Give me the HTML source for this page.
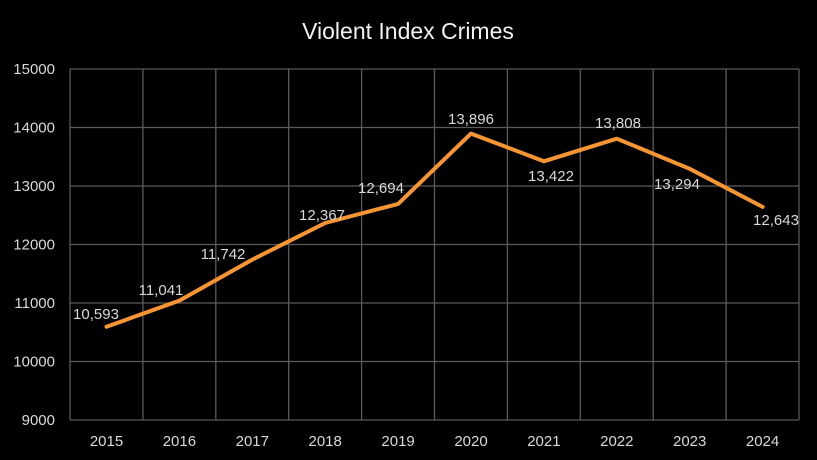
<!DOCTYPE html>
<html><head><style>
html,body{margin:0;padding:0;background:#000;}
svg{display:block;font-family:"Liberation Sans",Arial,sans-serif;}
</style></head><body>
<svg width="817" height="460" viewBox="0 0 817 460">
<rect width="817" height="460" fill="#000"/>
<text x="408" y="39" text-anchor="middle" fill="#f2f2f2" font-size="23">Violent Index Crimes</text>
<g stroke="#5a5a5a" stroke-width="1.3" fill="none">
<line x1="70" y1="69" x2="799" y2="69"/>
<line x1="70" y1="127.5" x2="799" y2="127.5"/>
<line x1="70" y1="186" x2="799" y2="186"/>
<line x1="70" y1="244.5" x2="799" y2="244.5"/>
<line x1="70" y1="303" x2="799" y2="303"/>
<line x1="70" y1="361.5" x2="799" y2="361.5"/>
<line x1="70" y1="420" x2="799" y2="420"/>
<line x1="70" y1="69" x2="70" y2="420"/>
<line x1="142.9" y1="69" x2="142.9" y2="420"/>
<line x1="215.8" y1="69" x2="215.8" y2="420"/>
<line x1="288.7" y1="69" x2="288.7" y2="420"/>
<line x1="361.6" y1="69" x2="361.6" y2="420"/>
<line x1="434.5" y1="69" x2="434.5" y2="420"/>
<line x1="507.4" y1="69" x2="507.4" y2="420"/>
<line x1="580.3" y1="69" x2="580.3" y2="420"/>
<line x1="653.2" y1="69" x2="653.2" y2="420"/>
<line x1="726.1" y1="69" x2="726.1" y2="420"/>
<line x1="799" y1="69" x2="799" y2="420"/>
</g>
<g fill="#d9d9d9" font-size="15" text-anchor="end">
<text x="55" y="74">15000</text>
<text x="55" y="132.5">14000</text>
<text x="55" y="191">13000</text>
<text x="55" y="249.5">12000</text>
<text x="55" y="308">11000</text>
<text x="55" y="366.5">10000</text>
<text x="55" y="425">9000</text>
</g>
<g fill="#d9d9d9" font-size="15" text-anchor="middle">
<text x="106.5" y="446">2015</text>
<text x="179.4" y="446">2016</text>
<text x="252.3" y="446">2017</text>
<text x="325.2" y="446">2018</text>
<text x="398.1" y="446">2019</text>
<text x="471" y="446">2020</text>
<text x="543.9" y="446">2021</text>
<text x="616.8" y="446">2022</text>
<text x="689.7" y="446">2023</text>
<text x="762.6" y="446">2024</text>
</g>
<polyline fill="none" stroke="#f79532" stroke-width="4" stroke-linejoin="round" stroke-linecap="round"
points="106.5,326.8 179.4,300.6 252.3,259.6 325.2,223 398.1,203.9 471,133.6 543.9,161.3 616.8,138.7 689.7,168.8 762.6,206.9"/>
<g fill="#d9d9d9" font-size="15" text-anchor="middle">
<text x="96" y="319">10,593</text>
<text x="161" y="295">11,041</text>
<text x="223" y="259">11,742</text>
<text x="322" y="220">12,367</text>
<text x="381" y="193">12,694</text>
<text x="471" y="124">13,896</text>
<text x="551" y="181">13,422</text>
<text x="618" y="128">13,808</text>
<text x="677" y="189">13,294</text>
<text x="776" y="225">12,643</text>
</g>
</svg>
</body></html>
